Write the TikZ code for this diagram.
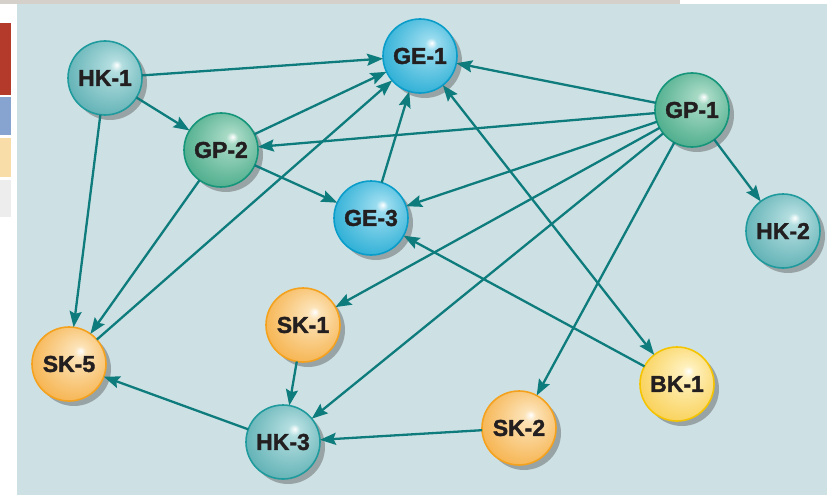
\documentclass[tikz,border=0pt]{standalone}
\usepackage{fontspec}
\setmainfont{Liberation Sans}[BoldFeatures={FakeBold=1.6}]
\usepackage{tikz}
\usetikzlibrary{positioning, shadows, arrows.meta}
\definecolor{panel}{HTML}{CDE1E4}
\definecolor{topbar}{HTML}{D6D0CB}
\definecolor{linkcol}{HTML}{0E7B7C}
\definecolor{labeltext}{HTML}{231F20}
\definecolor{stripred}{HTML}{B43A2C}
\definecolor{stripblue}{HTML}{86A4CF}
\definecolor{stripyellow}{HTML}{F8DDA8}
\definecolor{stripgray}{HTML}{EDEDED}
\definecolor{HKline}{HTML}{1F9A9D}
\definecolor{HKlight}{HTML}{B4DEE0}
\definecolor{HKdark}{HTML}{4FA8AC}
\definecolor{GEline}{HTML}{0A9DC9}
\definecolor{GElight}{HTML}{9ADCEF}
\definecolor{GEdark}{HTML}{17A6D1}
\definecolor{GPline}{HTML}{15957A}
\definecolor{GPlight}{HTML}{A8DAC6}
\definecolor{GPdark}{HTML}{3AA480}
\definecolor{SKline}{HTML}{F4A21E}
\definecolor{SKlight}{HTML}{FCE3B8}
\definecolor{SKdark}{HTML}{F5AA3A}
\definecolor{BKline}{HTML}{F5C400}
\definecolor{BKlight}{HTML}{FFF1BE}
\definecolor{BKdark}{HTML}{F8CB45}
% spheres lit from upper right
\newcommand{\sphereshading}[3]{%
  \pgfdeclareradialshading{#1}{\pgfpoint{8bp}{9bp}}{%
    color(0bp)=(white); color(4bp)=(#2); color(36bp)=(#3); color(50bp)=(#3)}}
\sphereshading{HKball}{HKlight}{HKdark}
\sphereshading{GEball}{GElight}{GEdark}
\sphereshading{GPball}{GPlight}{GPdark}
\sphereshading{SKball}{SKlight}{SKdark}
\sphereshading{BKball}{BKlight}{BKdark}
\tikzstyle{bubble}=[%
      circle, minimum size=74pt, inner sep=0pt, outer sep=0pt, line width=1.6pt,
      font=\fontsize{23}{23}\selectfont\bfseries, text=labeltext,
      drop shadow={shadow xshift=5pt, shadow yshift=-5pt, opacity=0.45, fill=black!65}
]
\tikzstyle{hk}=[bubble, draw=HKline, shading=HKball]
\tikzstyle{ge}=[bubble, draw=GEline, shading=GEball]
\tikzstyle{gp}=[bubble, draw=GPline, shading=GPball]
\tikzstyle{sk}=[bubble, draw=SKline, shading=SKball]
\tikzstyle{bk}=[bubble, draw=BKline, shading=BKball]
\begin{document}
\begin{tikzpicture}[x=1pt, y=-1pt,
    ->,
    >={Stealth[length=16pt, width=12pt, inset=2.5pt]},
    every edge/.style={draw=linkcol, line width=2.3pt}
  ]
    \useasboundingbox (0,0) rectangle (827,495);
    % page around the panel
    \fill[white] (0,0) rectangle (827,495);
    \fill[topbar] (0,0) rectangle (680,4);
    \fill[panel] (17,4) rectangle (827,495);
    \fill[stripred] (0,23) rectangle (11,95);
    \fill[stripblue] (0,97) rectangle (11,135);
    \fill[stripyellow] (0,138) rectangle (11,177);
    \fill[stripgray] (0,180) rectangle (11,217);

    \node[hk] (hk1) at (105,78)  {HK-1};
    \node[ge] (ge1) at (420,56)  {GE-1};
    \node[gp] (gp2) at (221,150) {GP-2};
    \node[gp] (gp1) at (692,110) {GP-1};
    \node[ge] (ge3) at (371,218) {GE-3};
    \node[hk] (hk2) at (783,231) {HK-2};
    \node[sk] (sk1) at (303,325) {SK-1};
    \node[sk] (sk5) at (69,364)  {SK-5};
    \node[bk] (bk1) at (677,384) {BK-1};
    \node[sk] (sk2) at (519,428) {SK-2};
    \node[hk] (hk3) at (283,442) {HK-3};

    \path (hk1) edge (ge1)
          (hk1) edge (gp2)
          (hk1) edge (sk5)
          (gp2) edge (ge1)
          (gp2) edge (ge3)
          (gp2) edge (sk5)
          (sk5) edge (ge1)
          (ge3) edge (ge1)
          (gp1) edge (ge1)
          (gp1) edge (gp2)
          (gp1) edge (ge3)
          (gp1) edge (hk2)
          (gp1) edge (sk1)
          (gp1) edge (hk3)
          (gp1) edge (sk2)
          (bk1) edge (ge3)
          (bk1) edge[<->] (ge1)
          (sk1) edge (hk3)
          (hk3) edge (sk5)
          (sk2) edge (hk3)
    ;
  \end{tikzpicture}
\end{document}
